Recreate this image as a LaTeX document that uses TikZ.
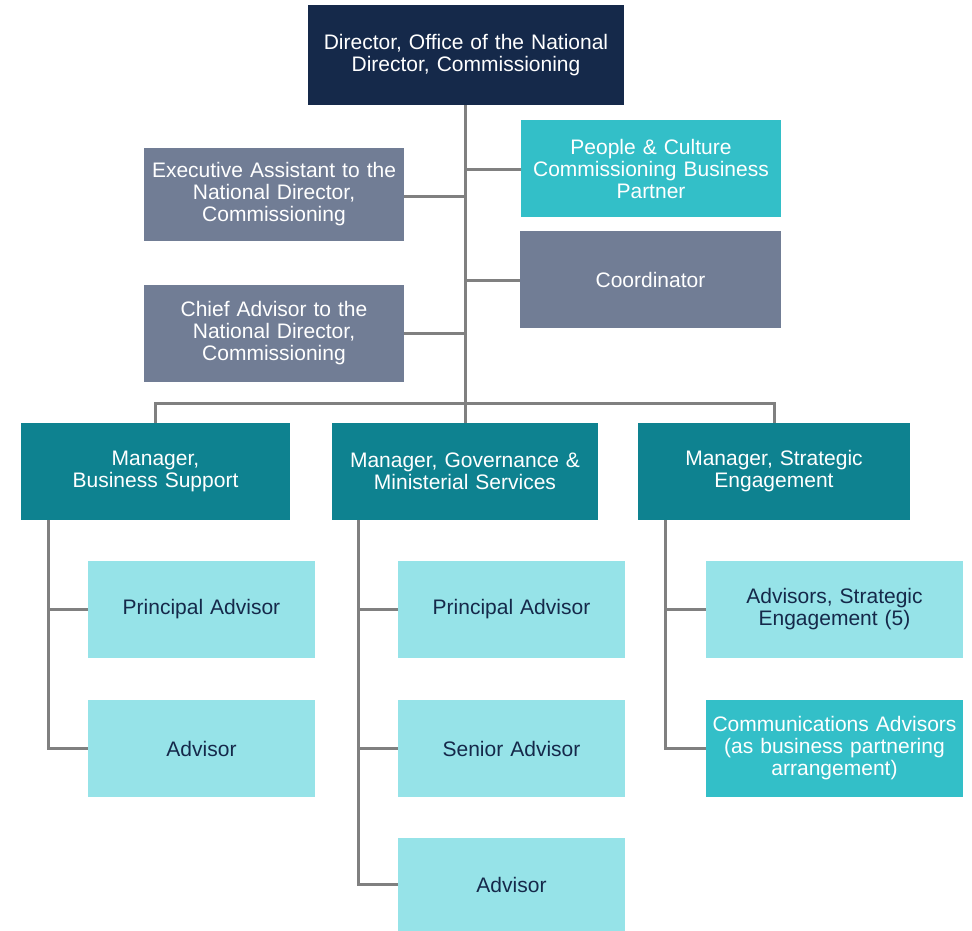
\documentclass[tikz,border=0pt]{standalone}
\usepackage{fontspec}
\setmainfont{Liberation Sans}
\definecolor{navy}{HTML}{15294A}
\definecolor{slate}{HTML}{717D95}
\definecolor{aqua}{HTML}{33BFC8}
\definecolor{teal}{HTML}{0E8290}
\definecolor{pale}{HTML}{96E3E8}
\definecolor{linegray}{HTML}{808080}
\begin{document}
\begin{tikzpicture}[x=1pt,y=-1pt,
  box/.style={rectangle, inner sep=0pt, align=center, font=\fontsize{21}{22}\selectfont},
  darkbox/.style={box, fill=navy, text=white},
  slatebox/.style={box, fill=slate, text=white},
  aquabox/.style={box, fill=aqua, text=white},
  tealbox/.style={box, fill=teal, text=white},
  palebox/.style={box, fill=pale, text=navy},
  link/.style={draw=linegray, line width=3pt}]
\useasboundingbox (0,0) rectangle (972,931);

\node[darkbox, minimum width=316, minimum height=100, text width=305] (dir) at (466,55) {Director, Office of the National\\Director, Commissioning};
\node[aquabox, minimum width=260, minimum height=97, text width=255] (pc) at (651,168.5) {People \& Culture\\Commissioning Business\\Partner};
\node[slatebox, minimum width=260, minimum height=93, text width=255] (exec) at (274,194.5) {Executive Assistant to the\\National Director,\\Commissioning};
\node[slatebox, minimum width=261, minimum height=97, text width=255] (coord) at (650.5,279.5) {Coordinator};
\node[slatebox, minimum width=260, minimum height=97, text width=255] (chief) at (274,333.5) {Chief Advisor to the\\National Director,\\Commissioning};

\node[tealbox, minimum width=269, minimum height=97, text width=262] (bs) at (155.5,471.5) {Manager,\\Business Support};
\node[tealbox, minimum width=266, minimum height=97, text width=262] (gms) at (465,471.5) {Manager, Governance \&\\Ministerial Services};
\node[tealbox, minimum width=272, minimum height=97, text width=262] (se) at (774,471.5) {Manager, Strategic\\Engagement};

\node[palebox, minimum width=227, minimum height=97, text width=222] (bspa) at (201.5,609.5) {Principal Advisor};
\node[palebox, minimum width=227, minimum height=97, text width=222] (bsad) at (201.5,748.5) {Advisor};

\node[palebox, minimum width=227, minimum height=97, text width=222] (gpa) at (511.5,609.5) {Principal Advisor};
\node[palebox, minimum width=227, minimum height=97, text width=222] (gsa) at (511.5,748.5) {Senior Advisor};
\node[palebox, minimum width=227, minimum height=93, text width=222] (gad) at (511.5,884.5) {Advisor};

\node[palebox, minimum width=257, minimum height=97, text width=252] (sead) at (834.5,609.5) {Advisors, Strategic\\Engagement (5)};
\node[aquabox, minimum width=257, minimum height=97, text width=256] (comm) at (834.5,748.5) {Communications Advisors\\(as business partnering\\arrangement)};

\coordinate (hub) at (465,403);
\coordinate (bsT) at (48,520);
\coordinate (gT) at (358,520);
\coordinate (sT) at (665,520);

\draw[link] (dir.south -| hub) -- (hub);
\draw[link] (pc.west |- 0,170) -- (hub |- 0,170);
\draw[link] (exec.east |- 0,196) -- (hub |- 0,196);
\draw[link] (coord.west |- 0,280) -- (hub |- 0,280);
\draw[link] (chief.east |- 0,333) -- (hub |- 0,333);
\draw[link] (bs.north) |- (hub) -| (se.north);
\draw[link] (hub) -- (gms.north);
\draw[link] (bsT) |- (bspa.west);
\draw[link] (bsT) |- (bsad.west);
\draw[link] (gT) |- (gpa.west);
\draw[link] (gT) |- (gsa.west);
\draw[link] (gT) |- (gad.west);
\draw[link] (sT) |- (sead.west);
\draw[link] (sT) |- (comm.west);
\end{tikzpicture}
\end{document}
